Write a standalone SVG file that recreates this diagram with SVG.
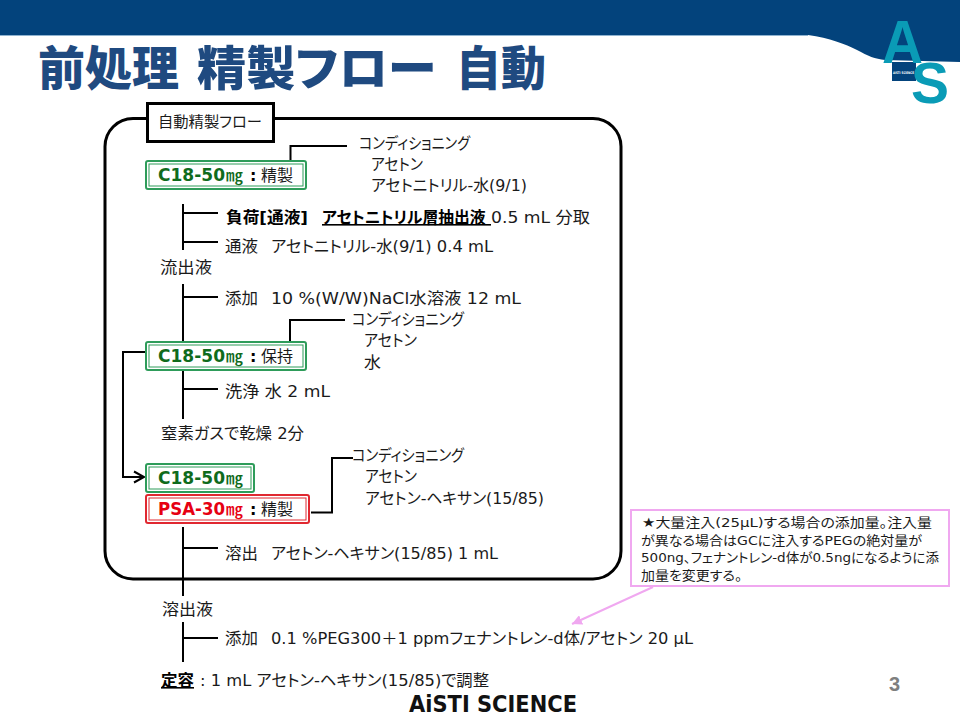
<svg xmlns="http://www.w3.org/2000/svg" width="960" height="720" viewBox="0 0 960 720">
<style>
text{font-family:"DejaVu Sans","Noto Sans CJK JP",sans-serif;font-size:16px;fill:#1a1a1a;font-feature-settings:"palt";}
.b{font-weight:bold;fill:#000;}
.line{fill:none;stroke:#000;stroke-width:2;}
.tag{font-size:17px;font-weight:bold;}
.mg{font-family:"Noto Sans CJK JP",sans-serif;font-size:16px;font-weight:500;}
.g{fill:#0f6b1c;}
.r{fill:#e60012;}
.note{font-size:13px;}
.title{font-family:"Noto Sans CJK JP",sans-serif;font-size:47px;font-weight:900;fill:#1f4a80;}
.logo{font-family:"Liberation Sans",sans-serif;font-weight:bold;fill:#0a9bb6;}
.outg{fill:#fff;stroke:#2e9c5a;stroke-width:2;}
.ing{fill:#fff;stroke:#2e9c5a;stroke-width:1;}
.outr{fill:#fff;stroke:#e02830;stroke-width:2;}
.inr{fill:#fff;stroke:#e02830;stroke-width:1;}
</style>
<defs>
<marker id="ah" markerUnits="userSpaceOnUse" markerWidth="14" markerHeight="14" refX="11" refY="7" orient="auto"><path d="M1 1.500L11 7L1 12.500" fill="none" stroke="#000" stroke-width="2"/></marker>
<marker id="ap" markerUnits="userSpaceOnUse" markerWidth="12" markerHeight="10" refX="10" refY="5" orient="auto"><path d="M0 0L10 5L0 10Z" fill="#f0a8f0"/></marker>
</defs>
<g id="header">
<path d="M0 0H960V62L885 60C875 59 868 56 857 50C845 44 830 38 808 35H0Z" fill="#03437c"/>
<path d="M0 35.500H808" stroke="#8fb3d0" stroke-width="1"/>
<text x="38" y="85" class="title" textLength="141" lengthAdjust="spacingAndGlyphs">前処理</text>
<text x="197" y="85" class="title" textLength="239" lengthAdjust="spacingAndGlyphs">精製フロー</text>
<text x="456" y="85" class="title" textLength="90" lengthAdjust="spacingAndGlyphs">自動</text>
</g>
<g id="logo">
<rect x="892" y="62" width="24" height="19" fill="#03437c"/>
<text x="882" y="63" class="logo" style="font-size:62px;" textLength="41" lengthAdjust="spacingAndGlyphs">A</text>
<text x="911" y="103" class="logo" style="font-size:58px;" textLength="38" lengthAdjust="spacingAndGlyphs">S</text>
<text x="893" y="74" style="font-size:3.500px;fill:#fff;font-weight:bold;" textLength="21" lengthAdjust="spacingAndGlyphs">AiSTI SCIENCE</text>
</g>
<g id="frame">
<rect x="105" y="118.500" width="516" height="460.500" rx="28" ry="28" fill="#fff" stroke="#000" stroke-width="3"/>
</g>
<g id="connectors">
<path class="line" d="M183 204V250M183 213H218M183 242H218"/>
<path class="line" d="M183 284V342M183 297H218"/>
<path class="line" d="M183 370V419M183 389H218"/>
<path class="line" d="M183 527V596M183 548H218"/>
<path class="line" d="M183 622V662M183 638H218"/>
<path class="line" d="M290.500 161V146H347"/>
<path class="line" d="M290 342V320H345"/>
<path class="line" d="M311 512.500H332V458H353"/>
<path class="line" d="M145 352H123V477H144" marker-end="url(#ah)"/>
<path d="M653 587L572 624" fill="none" stroke="#f0a8f0" stroke-width="2" marker-end="url(#ap)"/>
</g>
<g id="title-box">
<rect x="147.500" y="103.500" width="126" height="38" fill="#fff" stroke="#000" stroke-width="3"/>
<text x="158" y="127" style="font-size:15px;" textLength="104" lengthAdjust="spacingAndGlyphs">自動精製フロー</text>
</g>
<g id="node-c18-1">
<rect x="146" y="161" width="160" height="28" rx="2" class="outg"/><rect x="149" y="164" width="154" height="22" class="ing"/>
<text x="158" y="181" class="tag g" textLength="67" lengthAdjust="spacingAndGlyphs">C18-50</text><text x="226" y="181" class="mg g" textLength="17" lengthAdjust="spacingAndGlyphs">㎎</text><text x="250" y="181" class="b">:</text><text x="261" y="181" textLength="32" lengthAdjust="spacingAndGlyphs">精製</text>
</g>
<g id="node-c18-2">
<rect x="146" y="342" width="160" height="28" rx="2" class="outg"/><rect x="149" y="345" width="154" height="22" class="ing"/>
<text x="158" y="362" class="tag g" textLength="67" lengthAdjust="spacingAndGlyphs">C18-50</text><text x="226" y="362" class="mg g" textLength="17" lengthAdjust="spacingAndGlyphs">㎎</text><text x="250" y="362" class="b">:</text><text x="261" y="362" textLength="32" lengthAdjust="spacingAndGlyphs">保持</text>
</g>
<g id="node-c18-3">
<rect x="146" y="464" width="108" height="28" rx="2" class="outg"/><rect x="149" y="467" width="102" height="22" class="ing"/>
<text x="158" y="484" class="tag g" textLength="67" lengthAdjust="spacingAndGlyphs">C18-50</text><text x="226" y="484" class="mg g" textLength="17" lengthAdjust="spacingAndGlyphs">㎎</text>
</g>
<g id="node-psa">
<rect x="146" y="495" width="163" height="28" rx="2" class="outr"/><rect x="149" y="498" width="157" height="22" class="inr"/>
<text x="158" y="515" class="tag r" textLength="67" lengthAdjust="spacingAndGlyphs">PSA-30</text><text x="226" y="515" class="mg r" textLength="17" lengthAdjust="spacingAndGlyphs">㎎</text><text x="250" y="515" class="b">:</text><text x="261" y="515" textLength="32" lengthAdjust="spacingAndGlyphs">精製</text>
</g>
<g id="labels">
<text x="359" y="149" textLength="111" lengthAdjust="spacingAndGlyphs">コンディショニング</text>
<text x="371" y="170" textLength="52" lengthAdjust="spacingAndGlyphs">アセトン</text>
<text x="371" y="191" textLength="156" lengthAdjust="spacingAndGlyphs">アセトニトリル-水(9/1)</text>
<text x="226" y="223" class="b" textLength="82" lengthAdjust="spacingAndGlyphs">負荷[通液]</text>
<text x="322" y="223" class="b" text-decoration="underline" textLength="169" lengthAdjust="spacingAndGlyphs">アセトニトリル層抽出液&#160;</text>
<text x="491" y="223" textLength="99" lengthAdjust="spacingAndGlyphs">0.5 mL 分取</text>
<text x="225" y="252" textLength="33" lengthAdjust="spacingAndGlyphs">通液</text><text x="271" y="252" textLength="222" lengthAdjust="spacingAndGlyphs">アセトニトリル-水(9/1) 0.4 mL</text>
<text x="160" y="273" textLength="52" lengthAdjust="spacingAndGlyphs">流出液</text>
<text x="225" y="304" textLength="33" lengthAdjust="spacingAndGlyphs">添加</text><text x="271" y="304" textLength="250" lengthAdjust="spacingAndGlyphs">10 %(W/W)NaCl水溶液 12 mL</text>
<text x="352" y="325" textLength="112" lengthAdjust="spacingAndGlyphs">コンディショニング</text>
<text x="364" y="346" textLength="53" lengthAdjust="spacingAndGlyphs">アセトン</text>
<text x="364" y="368" textLength="17" lengthAdjust="spacingAndGlyphs">水</text>
<text x="225" y="397" textLength="105" lengthAdjust="spacingAndGlyphs">洗浄 水 2 mL</text>
<text x="161" y="439" textLength="143" lengthAdjust="spacingAndGlyphs">窒素ガスで乾燥 2分</text>
<text x="352" y="461" textLength="112" lengthAdjust="spacingAndGlyphs">コンディショニング</text>
<text x="365" y="482" textLength="52" lengthAdjust="spacingAndGlyphs">アセトン</text>
<text x="365" y="504" textLength="179" lengthAdjust="spacingAndGlyphs">アセトン-ヘキサン(15/85)</text>
<text x="225" y="559" textLength="33" lengthAdjust="spacingAndGlyphs">溶出</text><text x="271" y="559" textLength="227" lengthAdjust="spacingAndGlyphs">アセトン-ヘキサン(15/85) 1 mL</text>
<text x="162" y="615" textLength="51" lengthAdjust="spacingAndGlyphs">溶出液</text>
<text x="225" y="644" textLength="33" lengthAdjust="spacingAndGlyphs">添加</text><text x="271" y="644" textLength="422" lengthAdjust="spacingAndGlyphs">0.1 %PEG300＋1 ppmフェナントレン-d体/アセトン 20 μL</text>
<text x="161" y="686" class="b" text-decoration="underline" textLength="33" lengthAdjust="spacingAndGlyphs">定容</text><text x="200" y="686" textLength="289" lengthAdjust="spacingAndGlyphs">: 1 mL アセトン-ヘキサン(15/85)で調整</text>
</g>
<g id="note">
<rect x="631" y="510" width="318" height="76" fill="#fff" stroke="#f0a8f0" stroke-width="2"/>
<text x="642" y="527" class="note" textLength="290" lengthAdjust="spacingAndGlyphs">★大量注入(25μL)する場合の添加量。注入量</text>
<text x="641" y="545" class="note" textLength="281" lengthAdjust="spacingAndGlyphs">が異なる場合はGCに注入するPEGの絶対量が</text>
<text x="641" y="562" class="note" textLength="298" lengthAdjust="spacingAndGlyphs">500ng、フェナントレン-d体が0.5ngになるように添</text>
<text x="641" y="580" class="note" textLength="101" lengthAdjust="spacingAndGlyphs">加量を変更する。</text>
</g>
<g id="footer">
<text x="409" y="712" style="font-size:23px;font-weight:bold;fill:#111;" textLength="168" lengthAdjust="spacingAndGlyphs">AiSTI SCIENCE</text>
<text x="889" y="691" style="font-family:'Liberation Sans',sans-serif;font-size:20px;font-weight:bold;fill:#7f7f7f;">3</text>
</g>
</svg>
